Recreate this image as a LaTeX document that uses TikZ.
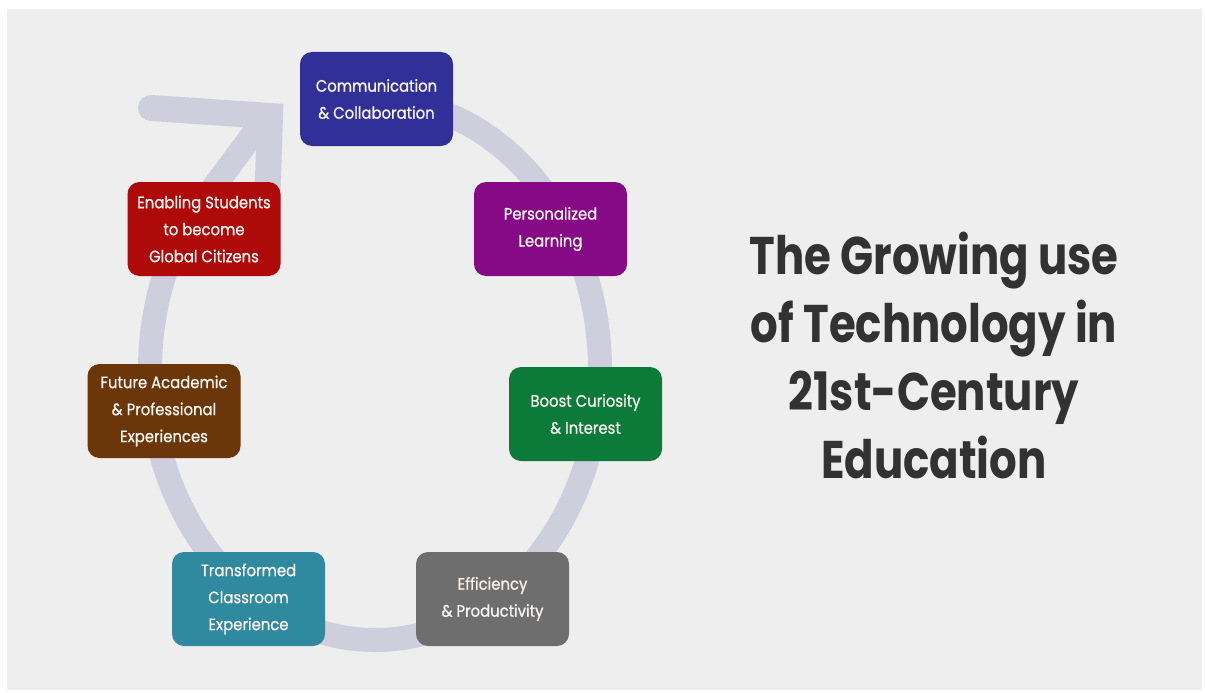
\documentclass[tikz,border=0pt]{standalone}
\usepackage{fontspec}
\setmainfont{Poppins}[FakeStretch=0.88]
\newfontfamily\cardfont{Poppins}[FakeStretch=0.9, FakeBold=0.9]
\newfontfamily\titlefont{Poppins}[FakeStretch=0.82]
\definecolor{bg}{RGB}{238,238,238}
\definecolor{ringc}{RGB}{206,206,221}
\definecolor{cblue}{RGB}{48,48,152}
\definecolor{cpurple}{RGB}{134,10,134}
\definecolor{cgreen}{RGB}{12,122,56}
\definecolor{cgray}{RGB}{110,110,110}
\definecolor{cteal}{RGB}{47,138,160}
\definecolor{cbrown}{RGB}{106,54,10}
\definecolor{cred}{RGB}{175,10,10}
\definecolor{ctitle}{RGB}{50,50,50}
\definecolor{ctext}{RGB}{248,244,240}
\begin{document}
\begin{tikzpicture}[x=1pt,y=-1pt,
  card/.style={rounded corners=12pt, minimum width=153pt, minimum height=94pt,
    inner sep=0pt, text=ctext, align=center, font=\cardfont\fontsize{16.5}{27}\selectfont},
  ring/.style={line width=24pt, draw=ringc},
  titletext/.style={text=ctitle, align=center, inner sep=0pt,
    font=\titlefont\bfseries\fontsize{53}{68}\selectfont}]
\useasboundingbox (0,0) rectangle (1205,693);
\fill[white] (0,0) rectangle (1205,693);
\fill[bg] (7,9) rectangle (1202,690);
% cycle ring
\coordinate (ringstart) at (375,100);
\coordinate (shaftend) at (268,114);
\draw[ring] (ringstart) arc[start angle=270, end angle=572, x radius=225, y radius=270] -- (shaftend);
\draw[ring, line width=26pt, line cap=round, line join=miter] (151,108) -- (270,116) -- (266,240);
% cards
\node[card, fill=cblue]   (comm)  at (376.5,99)  {Communication\\\& Collaboration};
\node[card, fill=cpurple] (pers)  at (550.5,229) {Personalized\\Learning};
\node[card, fill=cgreen]  (boost) at (585.5,414) {Boost Curiosity\\\& Interest};
\node[card, fill=cgray]   (eff)   at (492.5,599) {Efficiency\\\& Productivity};
\node[card, fill=cteal]   (trans) at (248.5,599) {Transformed\\Classroom\\Experience};
\node[card, fill=cbrown]  (fut)   at (164,411)   {Future Academic\\\& Professional\\Experiences};
\node[card, fill=cred]    (enab)  at (204,229)   {Enabling Students\\to become\\Global Citizens};
% title
\node[titletext] (title) at (934,355) {The Growing use\\of Technology in\\21st-Century\\Education};
\end{tikzpicture}
\end{document}
